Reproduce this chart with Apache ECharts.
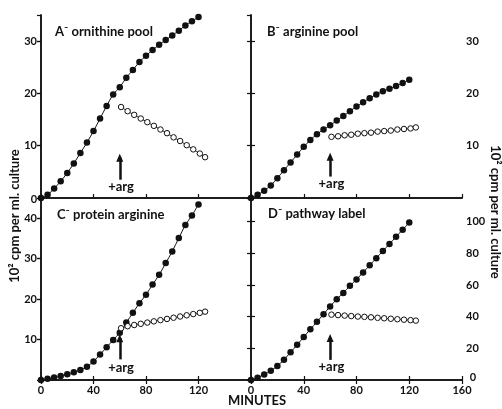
<!DOCTYPE html>
<html>
<head>
<meta charset="utf-8">
<style>
  html, body { margin: 0; padding: 0; background: #fff; }
  #chart { width: 502px; height: 409px; }
</style>
<script src="https://cdn.jsdelivr.net/npm/echarts@6/dist/echarts.min.js"></script>
</head>
<body>
<div id="chart"></div>
<script>
// sampling times (minutes)
const fillTimes = [0, 5, 10, 15, 20, 25, 30, 35, 40, 45, 50, 55, 60, 65, 70, 75, 80, 85, 90, 95, 100, 105, 110, 115, 120];
const openTimes = [61, 66, 71, 76, 81, 86, 91, 96, 101, 106, 111, 116, 121, 125];

// A - ornithine pool
const ornFilled = [0, 0.6, 1.8, 3.2, 4.8, 6.6, 8.6, 10.6, 12.8, 15.2, 17.6, 19.8, 21.2, 23, 24.5, 26, 27.2, 28.3, 29.3, 30.2, 31.1, 32, 33, 33.8, 34.6];
const ornOpen = [17.4, 16.6, 15.9, 15.2, 14.5, 13.8, 13.1, 12.4, 11.6, 10.9, 10.1, 9.3, 8.5, 7.8];
// B - arginine pool
const argFilled = [0, 0.6, 1.4, 2.4, 3.8, 5.3, 6.8, 8.3, 9.8, 11.1, 12.2, 13.1, 13.9, 14.8, 15.7, 16.6, 17.5, 18.3, 19.1, 19.8, 20.4, 20.9, 21.4, 22, 22.6];
const argOpen = [11.7, 11.8, 12.0, 12.1, 12.3, 12.4, 12.5, 12.7, 12.8, 12.9, 13.1, 13.2, 13.3, 13.5];
// C - protein arginine
const protFilled = [0, 0.3, 0.6, 1.0, 1.4, 1.9, 2.5, 3.3, 4.6, 6.3, 8.1, 9.9, 11.7, 14.2, 16.6, 19.0, 21.1, 23.6, 26.0, 28.9, 31.8, 35.1, 38.3, 40.7, 43.4];
const protOpen = [12.8, 13.3, 13.6, 13.9, 14.2, 14.5, 14.8, 15.1, 15.4, 15.7, 16.0, 16.3, 16.6, 16.9];
// D - pathway label
const pathFilled = [0, 1.5, 3.5, 5.8, 8.8, 12.8, 17.5, 22.2, 27.2, 32, 36.8, 41.5, 46.5, 51, 55, 59.5, 63.5, 68, 72.5, 77, 81.5, 86, 90.5, 95, 99.5];
const pathOpen = [41.3, 41.0, 40.7, 40.4, 40.1, 39.9, 39.6, 39.3, 39.0, 38.7, 38.4, 38.1, 37.8, 37.5];

const panelTitles = ['A\u207B ornithine pool', 'B\u207B arginine pool', 'C\u207B protein arginine', 'D\u207B pathway label'];
const yMax = [35, 35, 45, 115];
const yStep = [10, 10, 10, 20];
// +arg arrow: [bottom, top, label] in data units
const arrows = [[3.5, 7.7, 2.1], [4.1, 7.9, 2.7], [5.1, 10.3, 2.9], [12.7, 26.5, 8.4]];

const chart = echarts.init(document.getElementById('chart'));

const font = 'Lato, "Open Sans", sans-serif';
const black = '#111';

const grids = [
  { left: 41, top: 15, width: 210, height: 183 },
  { left: 251, top: 15, width: 211, height: 183 },
  { left: 41, top: 198, width: 210, height: 182 },
  { left: 251, top: 198, width: 211, height: 182 }
];

function pairs(ts, vs) {
  return vs.map((v, i) => [ts[i], v]);
}

const xAxis = [];
const yAxis = [];
const series = [];
const filledSets = [ornFilled, argFilled, protFilled, pathFilled];
const openSets = [ornOpen, argOpen, protOpen, pathOpen];

for (let i = 0; i < 4; i++) {
  const isBottom = i >= 2;
  const isRight = i % 2 === 1;
  // bottom x axis
  xAxis.push({
    gridIndex: i, type: 'value', min: 0, max: 160, interval: 40, position: 'bottom',
    axisLine: { lineStyle: { color: black, width: 1.5 } },
    axisTick: { show: true, inside: true, length: 4, lineStyle: { color: black, width: 1.2 } },
    axisLabel: {
      show: isBottom, color: black, fontFamily: font, fontSize: 11, fontWeight: 'bold', margin: 5,
      showMaxLabel: isRight
    },
    splitLine: { show: false }
  });
  // top x axis (frame)
  xAxis.push({
    gridIndex: i, type: 'value', min: 0, max: 160, interval: 40, position: 'top',
    axisLine: { lineStyle: { color: black, width: 1.5 } },
    axisTick: { show: isBottom, inside: true, length: 4, lineStyle: { color: black, width: 1.2 } },
    axisLabel: { show: false },
    splitLine: { show: false }
  });
  // outer y axis (labels)
  yAxis.push({
    gridIndex: i, type: 'value', min: 0, max: yMax[i], interval: yStep[i],
    position: isRight ? 'right' : 'left',
    axisLine: { show: true, lineStyle: { color: black, width: 1.5 } },
    axisTick: { show: true, inside: false, length: 4, lineStyle: { color: black, width: 1.2 } },
    axisLabel: {
      color: black, fontFamily: font, fontSize: 11, fontWeight: 'bold', margin: 4,
      showMinLabel: false, showMaxLabel: false
    },
    splitLine: { show: false }
  });
  // inner y axis (divider ticks, pointing left)
  yAxis.push({
    gridIndex: i, type: 'value', min: 0, max: yMax[i], interval: yStep[i],
    position: isRight ? 'left' : 'right',
    axisLine: { show: true, lineStyle: { color: black, width: 1.5 } },
    axisTick: { show: true, inside: !isRight, length: 4, lineStyle: { color: black, width: 1.2 } },
    axisLabel: { show: false },
    splitLine: { show: false }
  });

  const a = arrows[i];
  series.push({
    type: 'line', xAxisIndex: i * 2, yAxisIndex: i * 2,
    data: pairs(fillTimes, filledSets[i]),
    smooth: 0.3, symbol: 'circle', symbolSize: 6.5,
    lineStyle: { color: black, width: 1 },
    itemStyle: { color: black, borderColor: black, borderWidth: 0 },
    z: 3, silent: true
  });
  series.push({
    type: 'line', xAxisIndex: i * 2, yAxisIndex: i * 2,
    data: pairs(openTimes, openSets[i]),
    smooth: 0.3, symbol: 'circle', symbolSize: 5.5, showAllSymbol: true,
    lineStyle: { color: black, width: 1 },
    itemStyle: { color: '#fff', borderColor: black, borderWidth: 1 },
    z: 4, silent: true,
    markLine: {
      silent: true, animation: false,
      symbol: ['none', 'triangle'], symbolSize: [7, 8],
      lineStyle: { color: black, width: 2.5, type: 'solid' },
      label: { show: false },
      data: [[{ coord: [60, a[0]] }, { coord: [60, a[1]] }]]
    },
    markPoint: {
      silent: true, animation: false,
      symbol: 'circle', symbolSize: 0,
      label: { show: true, position: 'inside', formatter: '+arg', color: black, fontFamily: font, fontSize: 13, fontWeight: 'bold' },
      data: [{ coord: [61, a[2]] }]
    }
  });
}

const titlePos = [[55, 33], [267, 33], [57, 216], [268, 215]];
const graphic = titlePos.map((p, i) => ({
  type: 'text', left: p[0], top: p[1] - 8,
  style: { text: panelTitles[i], fill: black, font: 'bold 13px ' + font }
}));
graphic.push({
  type: 'text', x: 15, y: 216, rotation: Math.PI / 2,
  style: { text: '10\u00B2 cpm per ml. culture', fill: black, font: 'bold 13px ' + font, align: 'center', verticalAlign: 'middle' }
});
graphic.push({
  type: 'text', x: 495, y: 212, rotation: -Math.PI / 2,
  style: { text: '10\u00B2 cpm per ml. culture', fill: black, font: 'bold 13px ' + font, align: 'center', verticalAlign: 'middle' }
});
graphic.push({
  type: 'text', x: 257, y: 401,
  style: { text: 'MINUTES', fill: black, font: 'bold 13px ' + font, align: 'center', verticalAlign: 'middle' }
});
// zero labels at the shared corners
graphic.push({
  type: 'text', x: 34, y: 199,
  style: { text: '0', fill: black, font: 'bold 11px ' + font, align: 'center', verticalAlign: 'middle' }
});
graphic.push({
  type: 'text', x: 473, y: 377,
  style: { text: '0', fill: black, font: 'bold 11px ' + font, align: 'center', verticalAlign: 'middle' }
});

chart.setOption({
  backgroundColor: '#fff',
  animation: false,
  grid: grids,
  xAxis: xAxis,
  yAxis: yAxis,
  series: series,
  graphic: graphic
});
</script>
</body>
</html>
